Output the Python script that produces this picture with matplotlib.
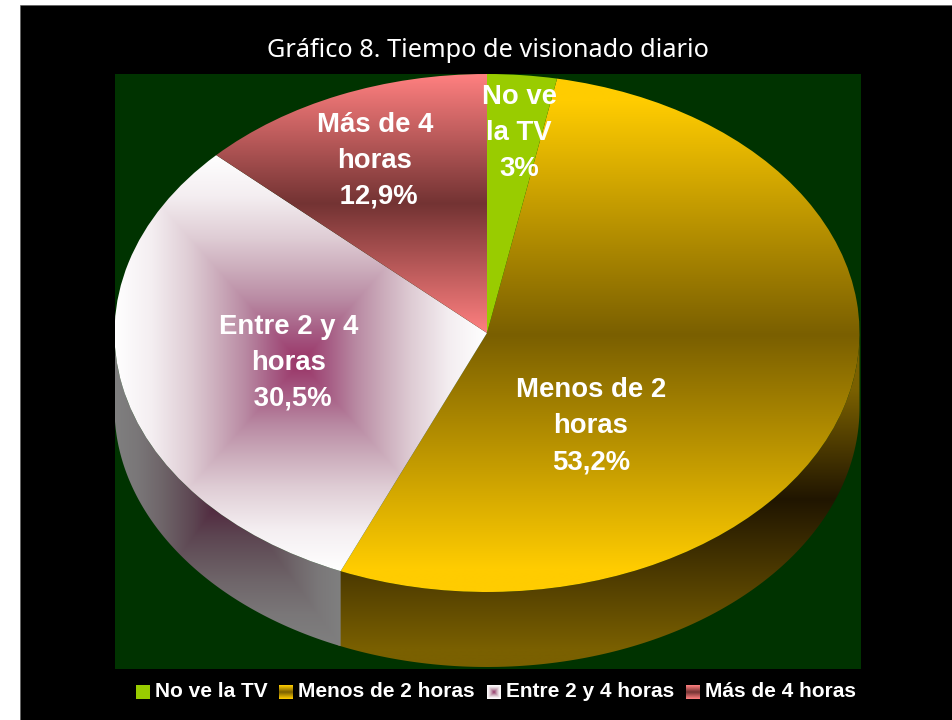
#!/usr/bin/env python
# Grafico 8: tiempo de visionado diario, pie in fake 3D with gradient fills.
import numpy as np
import matplotlib
matplotlib.use('Agg')
import matplotlib.pyplot as plt
from matplotlib.patches import Polygon, Rectangle
from matplotlib.colors import to_rgb

W, H = 952, 720

TITLE = 'Gráfico 8. Tiempo de visionado diario'
categories = ['No ve la TV', 'Menos de 2 horas', 'Entre 2 y 4 horas', 'Más de 4 horas']
values = [3.0, 53.2, 30.5, 12.9]
value_labels = ['3%', '53,2%', ' 30,5%', ' 12,9%']
wrapped = ['No ve\nla TV', 'Menos de 2\nhoras', 'Entre 2 y 4\nhoras', 'Más de 4\nhoras']

# pixel centres of the slice labels, legend swatch/text left edges
LABEL_POS = [(519, 133), (591, 426), (289, 363), (375, 161)]
SWATCH_X = [136, 279, 487, 686]
LEGEND_TEXT_X = [155, 298, 506, 705]

# plot area in pixels, pie centre and radii, wall height
AX_BOX = (115, 74, 861, 669)
CX, CY, RX, RY = 487, 333, 372.5, 259
DEPTH = 75 / RY

# colour stops of the rectangular fill on the "Entre" slice, centre to edge
BOX_T = [0, 0.15, 0.3, 0.45, 0.6, 0.8, 1]
BOX_STOPS = ['#993366', '#A65C84', '#B98AA3', '#CCADBC', '#DFCDD5', '#F4EEF1', '#FFFFFF']
# dark band on the "Menos" wall, pixel rows and how far from the dark colour
WALL_Y = [333, 390, 500, 650, 668]
WALL_T = [1, 1, 0, 1, 1]


def mix(c0, c1, t):
    c0, c1 = np.array(to_rgb(c0)), np.array(to_rgb(c1))
    return c0 + (c1 - c0) * t[..., None]


def vgrad(edge, mid, n=512, reach=1.0):
    # edge -> mid -> edge, top to bottom
    t = np.clip(np.abs(np.linspace(-1, 1, n)) / reach, 0, 1)[:, None]
    return mix(mid, edge, t)


def boxgrad(n=512, shade=1.0):
    # rectangular "from centre" fill
    g = np.abs(np.linspace(-1, 1, n))
    t = np.maximum(*np.meshgrid(g, g))
    stops = np.array([to_rgb(c) for c in BOX_STOPS])
    img = np.dstack([np.interp(t, BOX_T, stops[:, i]) for i in range(3)])
    return img * shade


def wall_grad(edge, mid, n=512):
    rows = np.linspace(WALL_Y[0], WALL_Y[-1], n)
    return mix(mid, edge, np.interp(rows, WALL_Y, WALL_T)[:, None])


def bbox_extent(bb):
    return (bb.x0, bb.x1, bb.y0, bb.y1)


def fill(ax, img, clip, bb, z):
    im = ax.imshow(img, extent=bbox_extent(bb), aspect='auto', zorder=z,
                   interpolation='bilinear')
    im.set_clip_path(clip)


def wall(a0, a1):
    # visible outer wall between two clockwise-from-top angles (degrees)
    a = np.radians(np.linspace(a0, a1, 200))
    x, y = np.sin(a), np.cos(a)
    return np.r_[np.c_[x, y], np.c_[x[::-1], y[::-1] - DEPTH]]


fig = plt.figure(figsize=(W / 100, H / 100), dpi=100, facecolor='white')
fig.add_artist(Rectangle((20 / W, 0), (W - 20) / W, (H - 5) / H, transform=fig.transFigure,
                         fc='black', ec='#555555', lw=0.4, zorder=-1))

x0, y0, x1, y1 = AX_BOX
ax = fig.add_axes([x0 / W, 1 - y1 / H, (x1 - x0) / W, (y1 - y0) / H])

wedges, _ = ax.pie(values, startangle=90, counterclock=False, radius=1,
                   colors=['#99CC00', 'none', 'none', 'none'],
                   wedgeprops={'linewidth': 0, 'zorder': 5})
ax.set_aspect('auto')
ax.set_frame_on(True)
ax.set_facecolor('#003300')
ax.set_xticks([])
ax.set_yticks([])
for s in ax.spines.values():
    s.set_visible(False)


def wedge_bbox(w):
    return w.get_path().get_extents(w.get_patch_transform())


# angle where each slice ends, clockwise from twelve o'clock
ends = np.cumsum(values) / np.sum(values) * 360

# outer walls first, the first one runs a little under the second to close the seam
wall_menos = Polygon(wall(90, ends[1] + 0.5), closed=True, fc='none', ec='none',
                     transform=ax.transData)
wall_entre = Polygon(wall(ends[1], 270), closed=True, fc='none', ec='none',
                     transform=ax.transData)
ax.add_patch(wall_menos)
ax.add_patch(wall_entre)
fill(ax, wall_grad('#7A6000', '#201500'), wall_menos,
     wall_menos.get_path().get_extents(), 2)
fill(ax, boxgrad(shade=0.5), wall_entre,
     wall_entre.get_path().get_extents(), 2)

# top faces
fill(ax, vgrad('#FFCC00', '#7A5F00', reach=0.91), wedges[1], wedge_bbox(wedges[1]), 3)
fill(ax, boxgrad(), wedges[2], wedge_bbox(wedges[2]), 3)
fill(ax, vgrad('#FF8080', '#733333'), wedges[3], wedge_bbox(wedges[3]), 3)

ax.set_xlim((x0 - CX) / RX, (x1 - CX) / RX)
ax.set_ylim((CY - y1) / RY, (CY - y0) / RY)

fig.text(488 / W, 1 - 50.5 / H, TITLE, color='white', fontsize=18.2,
         family='Noto Sans', ha='center', va='center')

for (px, py), txt, val in zip(LABEL_POS, wrapped, value_labels):
    fig.text(px / W, 1 - py / H, f'{txt}\n{val}', color='white', fontsize=19.8,
             family='Liberation Sans', weight='bold', ha='center', va='center',
             linespacing=1.5, zorder=10)

# legend, swatches carry the same fills as the slices
swatches = [None, vgrad('#FFCC00', '#7A5F00', 32), boxgrad(32),
            vgrad('#FF8080', '#733333', 32)]
for sx, tx, name, img in zip(SWATCH_X, LEGEND_TEXT_X, categories, swatches):
    sax = fig.add_axes([sx / W, 1 - 699 / H, 14 / W, 14 / H])
    sax.set_axis_off()
    if img is None:
        sax.add_patch(Rectangle((0, 0), 1, 1, fc='#99CC00', ec='none'))
    else:
        sax.imshow(img, aspect='auto', interpolation='bilinear')
    fig.text(tx / W, 1 - 691.5 / H, name, color='white', fontsize=15,
             family='Liberation Sans', weight='bold', ha='left', va='center')

fig.savefig('out.png', dpi=100, facecolor='white')
